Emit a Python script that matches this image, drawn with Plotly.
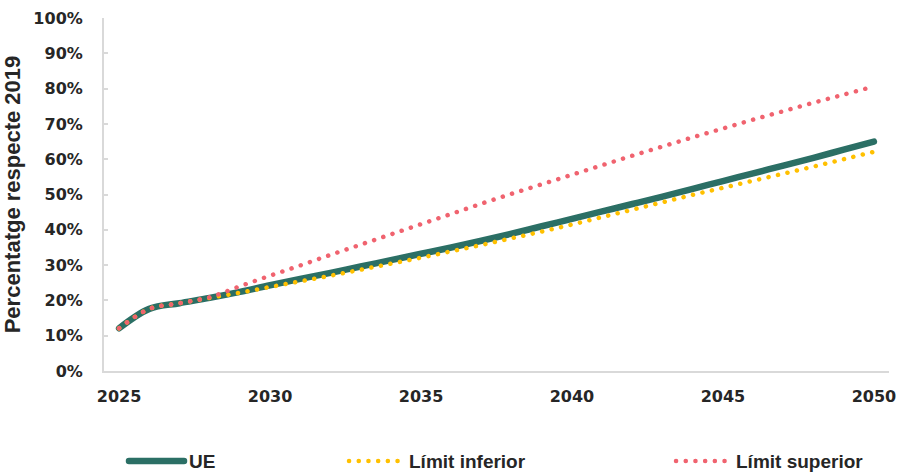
import plotly.graph_objects as go

# Yearly share relative to 2019 (%)
years = list(range(2025, 2051))
ue = [12.1, 17.6, 19.2, 20.7, 22.4, 24.3, 26.1, 27.8, 29.6, 31.4,
      33.2, 35.0, 36.9, 38.9, 41.0, 43.1, 45.2, 47.3, 49.4, 51.6,
      53.8, 56.0, 58.2, 60.4, 62.7, 65.0]
limit_inf = [12.1, 17.6, 19.2, 20.7, 22.2, 23.8, 25.4, 27.0, 28.7, 30.4,
             32.1, 33.9, 35.7, 37.6, 39.5, 41.5, 43.6, 45.7, 47.8, 49.9,
             51.9, 53.9, 55.9, 57.9, 60.0, 62.1]
limit_sup = [12.1, 17.6, 19.2, 20.9, 24.0, 27.0, 29.9, 32.9, 35.8, 38.7,
             41.6, 44.5, 47.4, 50.2, 52.9, 55.6, 58.3, 61.0, 63.6, 66.2,
             68.7, 71.2, 73.6, 76.0, 78.3, 80.6]
x_ticks = [2025, 2030, 2035, 2040, 2045, 2050]
y_ticks = list(range(0, 101, 10))
y_labels = [f"{v}%" for v in y_ticks]

GREEN = "#2B6F65"
GOLD = "#FFC000"
PINK = "#F0636F"
TEXT = "#262626"
AXIS = "#D9D9D9"
DOTS = "0.1px,9.6px"

tick_font = dict(family="DejaVu Sans", size=16, color=TEXT, weight="bold")
legend_font = dict(family="Liberation Sans", size=19, color=TEXT, weight="bold")

fig = go.Figure()
fig.add_trace(go.Scatter(x=years, y=ue, name="UE", mode="lines",
                         line=dict(color=GREEN, width=6.5, shape="spline"),
                         legend="legend", showlegend=True))
fig.add_trace(go.Scatter(x=years, y=limit_inf, name="Límit inferior", mode="lines",
                         line=dict(color=GOLD, width=4.5, dash=DOTS, shape="spline"),
                         legend="legend2", showlegend=True))
fig.add_trace(go.Scatter(x=years, y=limit_sup, name="Límit superior", mode="lines",
                         line=dict(color=PINK, width=4.5, dash=DOTS, shape="spline"),
                         legend="legend3", showlegend=True))

legend_common = dict(orientation="h", yref="container", yanchor="middle", y=0.025,
                     xref="container", xanchor="left",
                     font=legend_font, itemwidth=55, bgcolor="rgba(0,0,0,0)",
                     itemclick=False, itemdoubleclick=False)

fig.update_layout(
    width=907, height=473,
    showlegend=True,
    margin=dict(l=104, r=18, t=18, b=102, autoexpand=False),
    paper_bgcolor="white", plot_bgcolor="white",
    xaxis=dict(range=[2024.5, 2050.5], tickvals=x_ticks, showgrid=False,
               zeroline=False, showline=True, linecolor=AXIS, linewidth=2,
               ticks="", tickfont=tick_font, ticklabelstandoff=10,
               automargin=False),
    yaxis=dict(range=[0, 100], tickvals=y_ticks, ticktext=y_labels, showgrid=False,
               zeroline=False, showline=True, linecolor=AXIS, linewidth=2,
               ticks="inside", ticklen=4, tickcolor=AXIS, tickwidth=2,
               tickfont=tick_font, ticklabelstandoff=16, automargin=False,
               title=dict(text="Percentatge respecte 2019", standoff=10,
                          font=dict(family="Liberation Sans", size=22,
                                    color=TEXT, weight="bold"))),
    legend=dict(x=124 / 907, **legend_common),
    legend2=dict(x=344 / 907, **legend_common),
    legend3=dict(x=671 / 907, **legend_common),
)

# round line caps so the dotted series render as round dots
round_caps = """
var gd = document.getElementById('{plot_id}');
function roundCaps() {
  gd.querySelectorAll('path.js-line, .legendlines path').forEach(function (p) {
    p.style.strokeLinecap = 'round';
  });
}
roundCaps();
gd.on('plotly_afterplot', roundCaps);
"""

fig.write_html("out.html", post_script=round_caps)
